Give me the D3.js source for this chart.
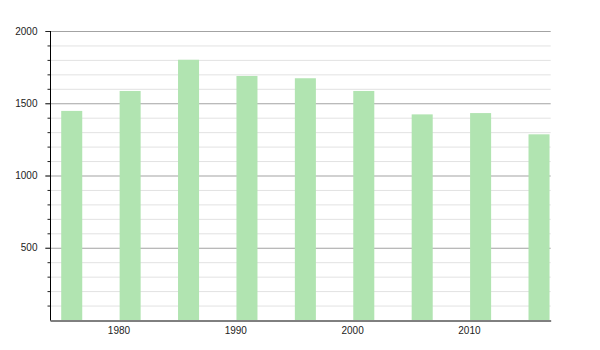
<!DOCTYPE html>
<html>
<head>
<meta charset="utf-8">
<script src="https://cdn.jsdelivr.net/npm/d3@7"></script>
<style>
  body { margin: 0; background: #fff; }
  text { font-family: "Liberation Sans", Arial, sans-serif; font-size: 10px; fill: #222; }
</style>
</head>
<body>
<div id="chart"></div>
<script>
// census years and population
const years = [1976, 1981, 1986, 1991, 1996, 2001, 2006, 2011, 2016];
const population = [1447, 1585, 1801, 1689, 1673, 1585, 1423, 1432, 1285];
const xTickYears = [1980, 1990, 2000, 2010];
const yMajorTicks = [500, 1000, 1500, 2000];
const yMinorTicks = d3.range(100, 2001, 100);

const W = 600, H = 350;
const margin = { left: 50, right: 49.3, top: 31, bottom: 30 };

const svg = d3.select('#chart').append('svg')
  .attr('width', W).attr('height', H);

const x = d3.scaleLinear()
  .domain([1974.14, 2017])
  .range([margin.left, W - margin.right]);

const y = d3.scaleLinear()
  .domain([0, 2000])
  .range([H - margin.bottom, margin.top]);

// gridlines, light every 100 and darker every 500
const grid = svg.append('g');
grid.selectAll('line.minor')
  .data(yMinorTicks.filter(d => d % 500 !== 0))
  .join('line')
  .attr('class', 'minor')
  .attr('x1', margin.left).attr('x2', W - margin.right)
  .attr('y1', d => y(d) + 0.5).attr('y2', d => y(d) + 0.5)
  .attr('stroke', '#e2e2e2');
grid.selectAll('line.major')
  .data(yMajorTicks)
  .join('line')
  .attr('class', 'major')
  .attr('x1', margin.left - 5).attr('x2', W - margin.right)
  .attr('y1', d => y(d) + 0.5).attr('y2', d => y(d) + 0.5)
  .attr('stroke', '#a3a3a3');

// bars
const barHalf = 0.9;
svg.append('g').selectAll('rect')
  .data(years.map((yr, i) => ({ yr, val: population[i] })))
  .join('rect')
  .attr('x', d => x(d.yr - barHalf))
  .attr('width', d => x(d.yr + barHalf) - x(d.yr - barHalf))
  .attr('y', d => y(d.val))
  .attr('height', d => y(0) - y(d.val))
  .attr('fill', '#b1e4b1');

// y axis: major ticks with labels, minor ticks without
const yAxis = svg.append('g')
  .attr('transform', `translate(${margin.left + 0.5},0)`)
  .call(d3.axisLeft(y).tickValues(yMajorTicks).tickFormat(d3.format('d')).tickSize(5).tickPadding(8))
  .call(g => g.select('.domain').remove());
yAxis.selectAll('line').attr('stroke', '#222');
yAxis.selectAll('text').style('font-size', '10px').attr('fill', '#111');

svg.append('g')
  .attr('transform', `translate(${margin.left + 0.5},0)`)
  .selectAll('line')
  .data(yMinorTicks.filter(d => d % 500 !== 0))
  .join('line')
  .attr('x1', -3).attr('x2', 0)
  .attr('y1', d => y(d) + 0.5).attr('y2', d => y(d) + 0.5)
  .attr('stroke', '#222');

svg.append('line')
  .attr('x1', margin.left + 0.5).attr('x2', margin.left + 0.5)
  .attr('y1', y(2000)).attr('y2', y(0) + 0.5)
  .attr('stroke', '#000');

// x axis
const xAxis = svg.append('g')
  .attr('transform', `translate(0,${y(0) + 0.5})`)
  .call(d3.axisBottom(x).tickValues(xTickYears).tickFormat(d3.format('d')).tickSize(0).tickPadding(6));
xAxis.select('.domain').attr('stroke', '#000');
xAxis.selectAll('text').style('font-size', '10px').attr('fill', '#111');
</script>
</body>
</html>
